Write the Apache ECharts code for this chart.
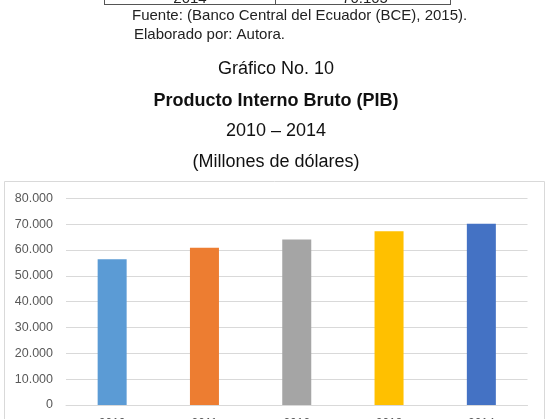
<!DOCTYPE html>
<html>
<head>
<meta charset="utf-8">
<script src="https://cdn.jsdelivr.net/npm/echarts@6/dist/echarts.min.js"></script>
<style>
  html, body { margin: 0; padding: 0; background: #fff; }
  #main { width: 552px; height: 419px; }
</style>
</head>
<body>
<div id="main"></div>
<script>
// datos del gráfico
var years = ['2010', '2011', '2012', '2013', '2014'];
var pib = [56450, 60850, 64100, 67200, 70105];
var barColors = ['#5b9bd5', '#ed7d31', '#a5a5a5', '#ffc000', '#4472c4'];
var yTicks = [0, 10000, 20000, 30000, 40000, 50000, 60000, 70000, 80000];
var tableRow = ['2014', '70.105'];

var font = '"Liberation Sans", Arial, sans-serif';

function miles(v) {
  return String(v).replace(/\B(?=(\d{3})+(?!\d))/g, '.');
}

var myChart = echarts.init(document.getElementById('main'));

var option = {
  animation: false,
  backgroundColor: '#fff',
  graphic: [
    // resto de la tabla anterior
    { type: 'line', shape: { x1: 104, y1: 4.5, x2: 451, y2: 4.5 }, style: { stroke: '#555', lineWidth: 1 } },
    { type: 'line', shape: { x1: 104.5, y1: 0, x2: 104.5, y2: 4.5 }, style: { stroke: '#555', lineWidth: 1 } },
    { type: 'line', shape: { x1: 275.5, y1: 0, x2: 275.5, y2: 4.5 }, style: { stroke: '#555', lineWidth: 1 } },
    { type: 'line', shape: { x1: 450.5, y1: 0, x2: 450.5, y2: 4.5 }, style: { stroke: '#555', lineWidth: 1 } },
    { type: 'text', x: 190, y: 6, style: { text: tableRow[0], font: '15px ' + font, fill: '#222', textAlign: 'center', textVerticalAlign: 'bottom' } },
    { type: 'text', x: 365, y: 6, style: { text: tableRow[1], font: '15px ' + font, fill: '#222', textAlign: 'center', textVerticalAlign: 'bottom' } },
    // fuente
    { type: 'text', x: 132, y: 16, style: { text: 'Fuente: (Banco Central del Ecuador (BCE), 2015).', font: '15px ' + font, fill: '#222', textAlign: 'left', textVerticalAlign: 'middle' } },
    { type: 'text', x: 134, y: 34.5, style: { text: 'Elaborado por: Autora.', font: '15px ' + font, fill: '#222', textAlign: 'left', textVerticalAlign: 'middle' } },
    // titulos
    { type: 'text', x: 276, y: 69, style: { text: 'Gráfico No. 10', font: '18px ' + font, fill: '#111', textAlign: 'center', textVerticalAlign: 'middle' } },
    { type: 'text', x: 276, y: 101.5, style: { text: 'Producto Interno Bruto (PIB)', font: 'bold 18px ' + font, fill: '#111', textAlign: 'center', textVerticalAlign: 'middle' } },
    { type: 'text', x: 276, y: 131, style: { text: '2010 – 2014', font: '18px ' + font, fill: '#111', textAlign: 'center', textVerticalAlign: 'middle' } },
    { type: 'text', x: 276, y: 162.5, style: { text: '(Millones de dólares)', font: '18px ' + font, fill: '#111', textAlign: 'center', textVerticalAlign: 'middle' } },
    // marco del gráfico
    { type: 'rect', z: -1, shape: { x: 4.5, y: 181.5, width: 540, height: 260 }, style: { fill: 'none', stroke: '#d9d9d9', lineWidth: 1 } }
  ],
  grid: {
    left: 66,
    right: 24.5,
    top: 198.3,
    bottom: 14,
    outerBoundsMode: 'none',
    containLabel: false
  },
  xAxis: {
    type: 'category',
    data: years,
    axisLine: { lineStyle: { color: '#d9d9d9' } },
    axisTick: { show: false },
    axisLabel: { color: '#595959', fontSize: 12, fontFamily: font, margin: 13 }
  },
  yAxis: {
    type: 'value',
    min: yTicks[0],
    max: yTicks[yTicks.length - 1],
    interval: yTicks[1] - yTicks[0],
    axisLine: { show: false },
    axisTick: { show: false },
    splitLine: { lineStyle: { color: '#d9d9d9' } },
    axisLabel: { color: '#595959', fontSize: 12.5, fontFamily: font, margin: 13, formatter: miles }
  },
  series: [{
    type: 'bar',
    barWidth: 29,
    data: pib.map(function (v, i) {
      return { value: v, itemStyle: { color: barColors[i] } };
    })
  }]
};

myChart.setOption(option);
</script>
</body>
</html>
